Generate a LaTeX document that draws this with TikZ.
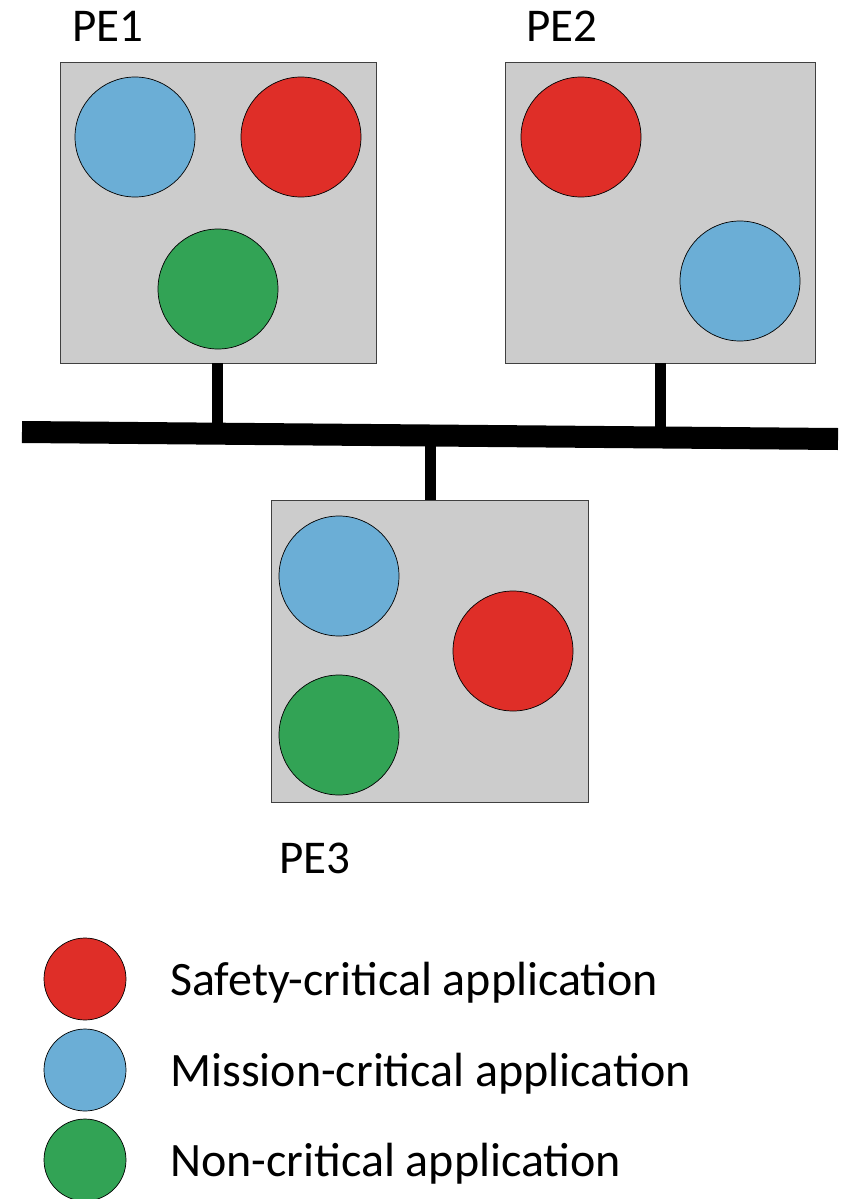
\documentclass[tikz,border=0pt]{standalone}
\usepackage{fontspec}
\setmainfont{Carlito}
\usetikzlibrary{calc}
\definecolor{pegray}{RGB}{204,204,204}
\definecolor{appred}{RGB}{223,46,40}
\definecolor{appblue}{RGB}{107,174,214}
\definecolor{appgreen}{RGB}{50,163,85}
\begin{document}
\begin{tikzpicture}[x=1pt,y=-1pt,
  app/.style={circle,draw=black,line width=0.7pt,inner sep=0,minimum size=120pt},
  legapp/.style={circle,draw=black,line width=0.7pt,inner sep=0,minimum size=82pt},
  safety/.style={app,fill=appred},
  mission/.style={app,fill=appblue},
  noncrit/.style={app,fill=appgreen},
  lbl/.style={anchor=base west,inner sep=0,font=\fontsize{47}{52}\selectfont},
  leglbl/.style={anchor=base west,inner sep=0,font=\fontsize{48}{52}\selectfont},
  stub/.style={line width=11pt},
  bus/.style={line width=22pt}]
\useasboundingbox (0,0) rectangle (844,1199);
% boxes
\node[draw=black!75,fill=pegray,line width=0.8pt,inner sep=0,minimum width=316pt,minimum height=301pt] (pe1) at (218,212.5) {};
\node[draw=black!75,fill=pegray,line width=0.8pt,inner sep=0,minimum width=310pt,minimum height=301pt] (pe2) at (660,212.5) {};
\node[draw=black!75,fill=pegray,line width=0.8pt,inner sep=0,minimum width=317pt,minimum height=302pt] (pe3) at (429.5,651) {};
% labels
\node[lbl] (l1) at (72,42) {PE1};
\node[lbl] (l2) at (526,42) {PE2};
\node[lbl] (l3) at (279,873) {PE3};
% apps
\node[mission] (a11) at (135,137) {};
\node[safety] (a12) at (301,137) {};
\node[noncrit] (a13) at (218,289) {};
\node[safety] (a21) at (581,137) {};
\node[mission] (a22) at (740,281) {};
\node[mission] (a31) at (339,576) {};
\node[safety] (a32) at (513,651) {};
\node[noncrit] (a33) at (339,735) {};
% bus
\coordinate (busL) at (22,432);
\coordinate (busR) at (838,439);
\coordinate (t1) at ($(busL)!{(217-22)/816}!(busR)$);
\coordinate (t2) at ($(busL)!{(660-22)/816}!(busR)$);
\coordinate (t3) at ($(busL)!{(430-22)/816}!(busR)$);
\draw[stub] (pe1.south -| t1) -- (t1);
\draw[stub] (pe2.south -| t2) -- (t2);
\draw[stub] (t3) -- (pe3.north -| t3);
\draw[bus] (busL) -- (busR);
% legend
\node[legapp,fill=appred] (k1) at (85,979) {};
\node[legapp,fill=appblue] (k2) at (85,1070) {};
\node[legapp,fill=appgreen] (k3) at (85,1160) {};
\node[leglbl] (t1l) at (170,995) {Safety-critical application};
\node[leglbl] (t2l) at (170,1086) {Mission-critical application};
\node[leglbl] (t3l) at (170,1176) {Non-critical application};
\end{tikzpicture}
\end{document}
